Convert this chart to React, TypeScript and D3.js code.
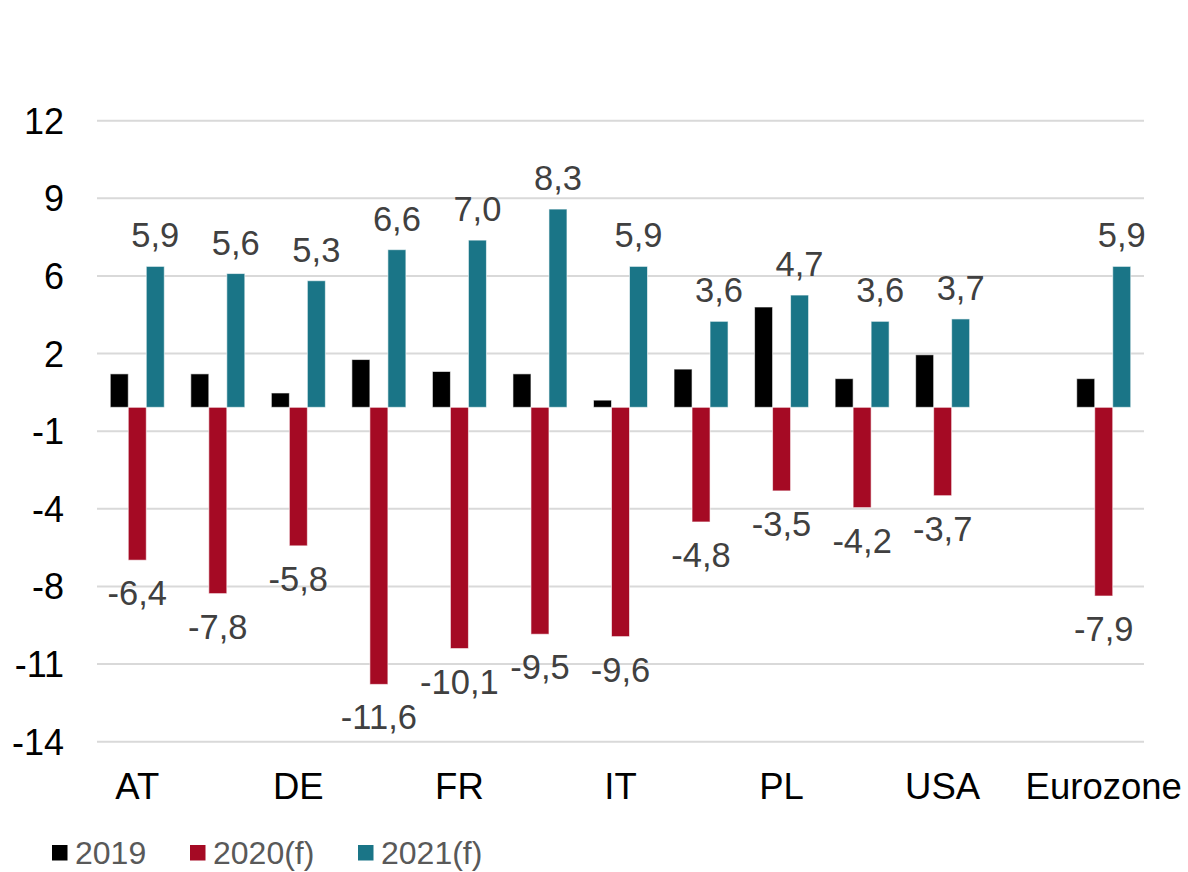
import React from "react";
import * as d3 from "d3";

const categories = ["AT", "BE", "DE", "ES", "FR", "GB", "IT", "NL", "PL", "SE", "USA", "", "Eurozone"];
const shownLabels = ["AT", "", "DE", "", "FR", "", "IT", "", "PL", "", "USA", "", "Eurozone"];
const values2019: (number | null)[] = [1.4, 1.4, 0.6, 2.0, 1.5, 1.4, 0.3, 1.6, 4.2, 1.2, 2.2, null, 1.2];
const values2020: (number | null)[] = [-6.4, -7.8, -5.8, -11.6, -10.1, -9.5, -9.6, -4.8, -3.5, -4.2, -3.7, null, -7.9];
const values2021: (number | null)[] = [5.9, 5.6, 5.3, 6.6, 7.0, 8.3, 5.9, 3.6, 4.7, 3.6, 3.7, null, 5.9];
const seriesNames = ["2019", "2020(f)", "2021(f)"];
const seriesColors = ["#000000", "#A50A24", "#1A7587"];
const showLabels = [false, true, true];
const tickValues = [12, 8.75, 5.5, 2.25, -1, -4.25, -7.5, -10.75, -14];
const tickLabels = ["12", "9", "6", "2", "-1", "-4", "-8", "-11", "-14"];

const FONT = "'Liberation Sans', Arial, sans-serif";

export default function App() {
  const W = 1188, H = 872;
  const left = 97, right = 1144, top = 120.7, bottom = 741.7;
  const x = d3.scaleBand<string>().domain(categories.map((c, i) => i + "|" + c)).range([left, right]).paddingInner(0).paddingOuter(0);
  const y = d3.scaleLinear().domain([-14, 12]).range([bottom, top]);
  const bw = x.bandwidth();
  const barW = 18;
  const groupW = barW * 3;
  const inner = d3.scaleBand<number>().domain([0, 1, 2]).range([(bw - groupW) / 2, (bw + groupW) / 2]).padding(0);
  const series = [values2019, values2020, values2021];
  const keys = x.domain();
  const fmt = (v: number) => v.toFixed(1).replace(".", ",");

  return (
    <svg width={W} height={H} style={{ position: "absolute", left: 0, top: 0, background: "#fff" }} fontFamily={FONT}>
      <rect x={0} y={0} width={W} height={H} fill="#fff" />
      {tickValues.map((t, i) => (
        <g key={"t" + i}>
          <line x1={left} x2={right} y1={y(t)} y2={y(t)} stroke="#D9D9D9" strokeWidth={2} />
          <text x={64} y={y(t)} dy="0.36em" textAnchor="end" fontSize={36} fill="#000">{tickLabels[i]}</text>
        </g>
      ))}
      {series.map((vals, si) => (
        <g key={"s" + si}>
          {vals.map((v, ci) => {
            if (v === null) return null;
            const bx = (x(keys[ci]) as number) + (inner(si) as number);
            const y0 = y(0), y1 = y(v);
            return (
              <rect key={ci} x={bx} y={Math.min(y0, y1)} width={inner.bandwidth()} height={Math.abs(y1 - y0)}
                fill={seriesColors[si]} stroke="#ffffff" strokeOpacity={0.6} strokeWidth={1} />
            );
          })}
        </g>
      ))}
      {series.map((vals, si) => showLabels[si] ? (
        <g key={"l" + si}>
          {vals.map((v, ci) => {
            if (v === null) return null;
            const cx = (x(keys[ci]) as number) + (inner(si) as number) + inner.bandwidth() / 2;
            const ly = v >= 0 ? y(v) - 19 : y(v) + 45;
            return (
              <text key={ci} x={cx} y={ly} textAnchor="middle" fontSize={34.5} fill="#404040">{fmt(v)}</text>
            );
          })}
        </g>
      ) : null)}
      {keys.map((k, ci) => (
        <text key={"c" + ci} x={(x(k) as number) + bw / 2} y={799} textAnchor="middle" fontSize={36.5} fill="#000">{shownLabels[ci]}</text>
      ))}
      {seriesNames.map((n, i) => {
        const lx = [52, 190, 358][i];
        return (
          <g key={"lg" + i}>
            <rect x={lx} y={845} width={15.5} height={15.5} fill={seriesColors[i]} />
            <text x={lx + 23} y={863.5} fontSize={32} fill="#595959">{n}</text>
          </g>
        );
      })}
    </svg>
  );
}
